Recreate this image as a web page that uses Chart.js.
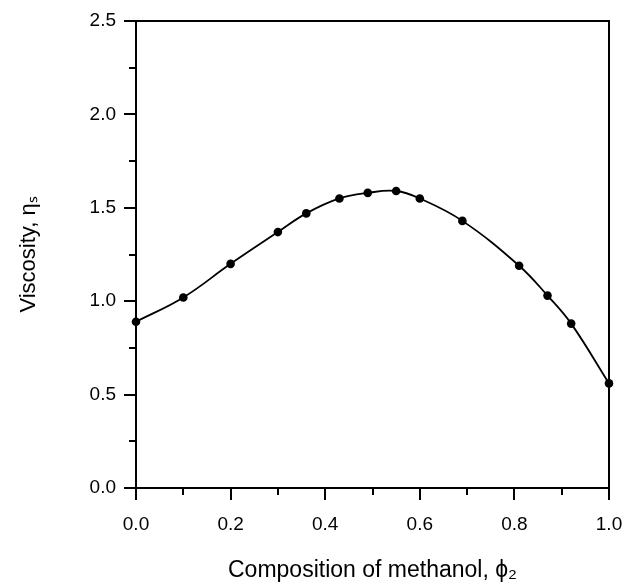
<!DOCTYPE html>
<html><head><meta charset="utf-8">
<script src="https://cdn.jsdelivr.net/npm/chart.js@4/dist/chart.umd.min.js"></script>
<style>html,body{margin:0;padding:0;background:#fff}#wrap{width:626px;height:588px}</style>
</head><body><div id="wrap"><canvas id="c" width="626" height="588"></canvas></div>
<script>
const methanolFraction = [0.00, 0.10, 0.20, 0.30, 0.36, 0.43, 0.49, 0.55, 0.60, 0.69, 0.81, 0.87, 0.92, 1.00];
const viscosity        = [0.89, 1.02, 1.20, 1.37, 1.47, 1.55, 1.58, 1.59, 1.55, 1.43, 1.19, 1.03, 0.88, 0.56];
const xTickLabels = ['0.0', '0.2', '0.4', '0.6', '0.8', '1.0'];
const yTickLabels = ['0.0', '0.5', '1.0', '1.5', '2.0', '2.5'];
const xTitle = 'Composition of methanol, \u03D5\u2082';
const yTitle = 'Viscosity, \u03B7\u209B';

const FONT = "'Liberation Sans', Arial, Helvetica, sans-serif";
const points = methanolFraction.map((x, i) => ({x: x, y: viscosity[i]}));
const labelFor = (list, v) => {
  const s = v.toFixed(1);
  return list.includes(s) ? s : '';
};
const noPad = s => { s.paddingLeft = 0; s.paddingRight = 0; s.paddingTop = 0; s.paddingBottom = 0; };

const axisBase = {
  type: 'linear',
  border: {display: true, color: '#000', width: 2},
  grid: {drawOnChartArea: false, color: '#000', lineWidth: 2}
};

new Chart(document.getElementById('c'), {
  type: 'scatter',
  data: {
    datasets: [{
      data: points,
      showLine: true,
      tension: 0.4,
      borderColor: '#000',
      borderWidth: 1.8,
      pointRadius: 4.3,
      pointBackgroundColor: '#000',
      pointBorderColor: '#000',
      pointBorderWidth: 0,
      clip: false
    }]
  },
  options: {
    responsive: false,
    devicePixelRatio: 1,
    animation: false,
    layout: {padding: {top: 21, right: 17, left: 0, bottom: 0}},
    plugins: {legend: {display: false}, tooltip: {enabled: false}},
    scales: {
      x: Object.assign({}, axisBase, {
        position: 'bottom', weight: 1, min: 0, max: 1,
        grid: {drawOnChartArea: false, color: '#000', lineWidth: 2, tickLength: 12},
        ticks: {stepSize: 0.2, color: '#000', padding: 13, maxRotation: 0,
                font: {family: FONT, size: 19},
                callback: v => labelFor(xTickLabels, v)},
        title: {display: true, text: xTitle, color: '#000', font: {family: FONT, size: 23}, padding: {top: 0, bottom: 4}},
        afterFit: s => { s.height = 100; noPad(s); }
      }),
      xMinor: Object.assign({}, axisBase, {
        position: 'bottom', weight: 0, min: 0, max: 1,
        border: {display: false},
        grid: {drawOnChartArea: false, color: '#000', lineWidth: 2, tickLength: 7},
        ticks: {display: false, stepSize: 0.1},
        afterFit: s => { s.height = 0; noPad(s); }
      }),
      xTop: Object.assign({}, axisBase, {
        position: 'top', min: 0, max: 1,
        grid: {drawOnChartArea: false, drawTicks: false},
        ticks: {display: false},
        afterFit: s => { s.height = 0; noPad(s); }
      }),
      y: Object.assign({}, axisBase, {
        position: 'left', weight: 1, min: 0, max: 2.5,
        grid: {drawOnChartArea: false, color: '#000', lineWidth: 2, tickLength: 12},
        ticks: {stepSize: 0.5, color: '#000', padding: 8,
                font: {family: FONT, size: 19},
                callback: v => labelFor(yTickLabels, v)},
        title: {display: true, text: yTitle, color: '#000', font: {family: FONT, size: 22}, padding: {top: 16, bottom: 0}},
        afterFit: s => { s.width = 136; noPad(s); }
      }),
      yMinor: Object.assign({}, axisBase, {
        position: 'left', weight: 0, min: 0, max: 2.5,
        border: {display: false},
        grid: {drawOnChartArea: false, color: '#000', lineWidth: 2, tickLength: 7},
        ticks: {display: false, stepSize: 0.25},
        afterFit: s => { s.width = 0; noPad(s); }
      }),
      yRight: Object.assign({}, axisBase, {
        position: 'right', min: 0, max: 2.5,
        grid: {drawOnChartArea: false, drawTicks: false},
        ticks: {display: false},
        afterFit: s => { s.width = 0; noPad(s); }
      })
    }
  }
});
</script>
</body></html>
